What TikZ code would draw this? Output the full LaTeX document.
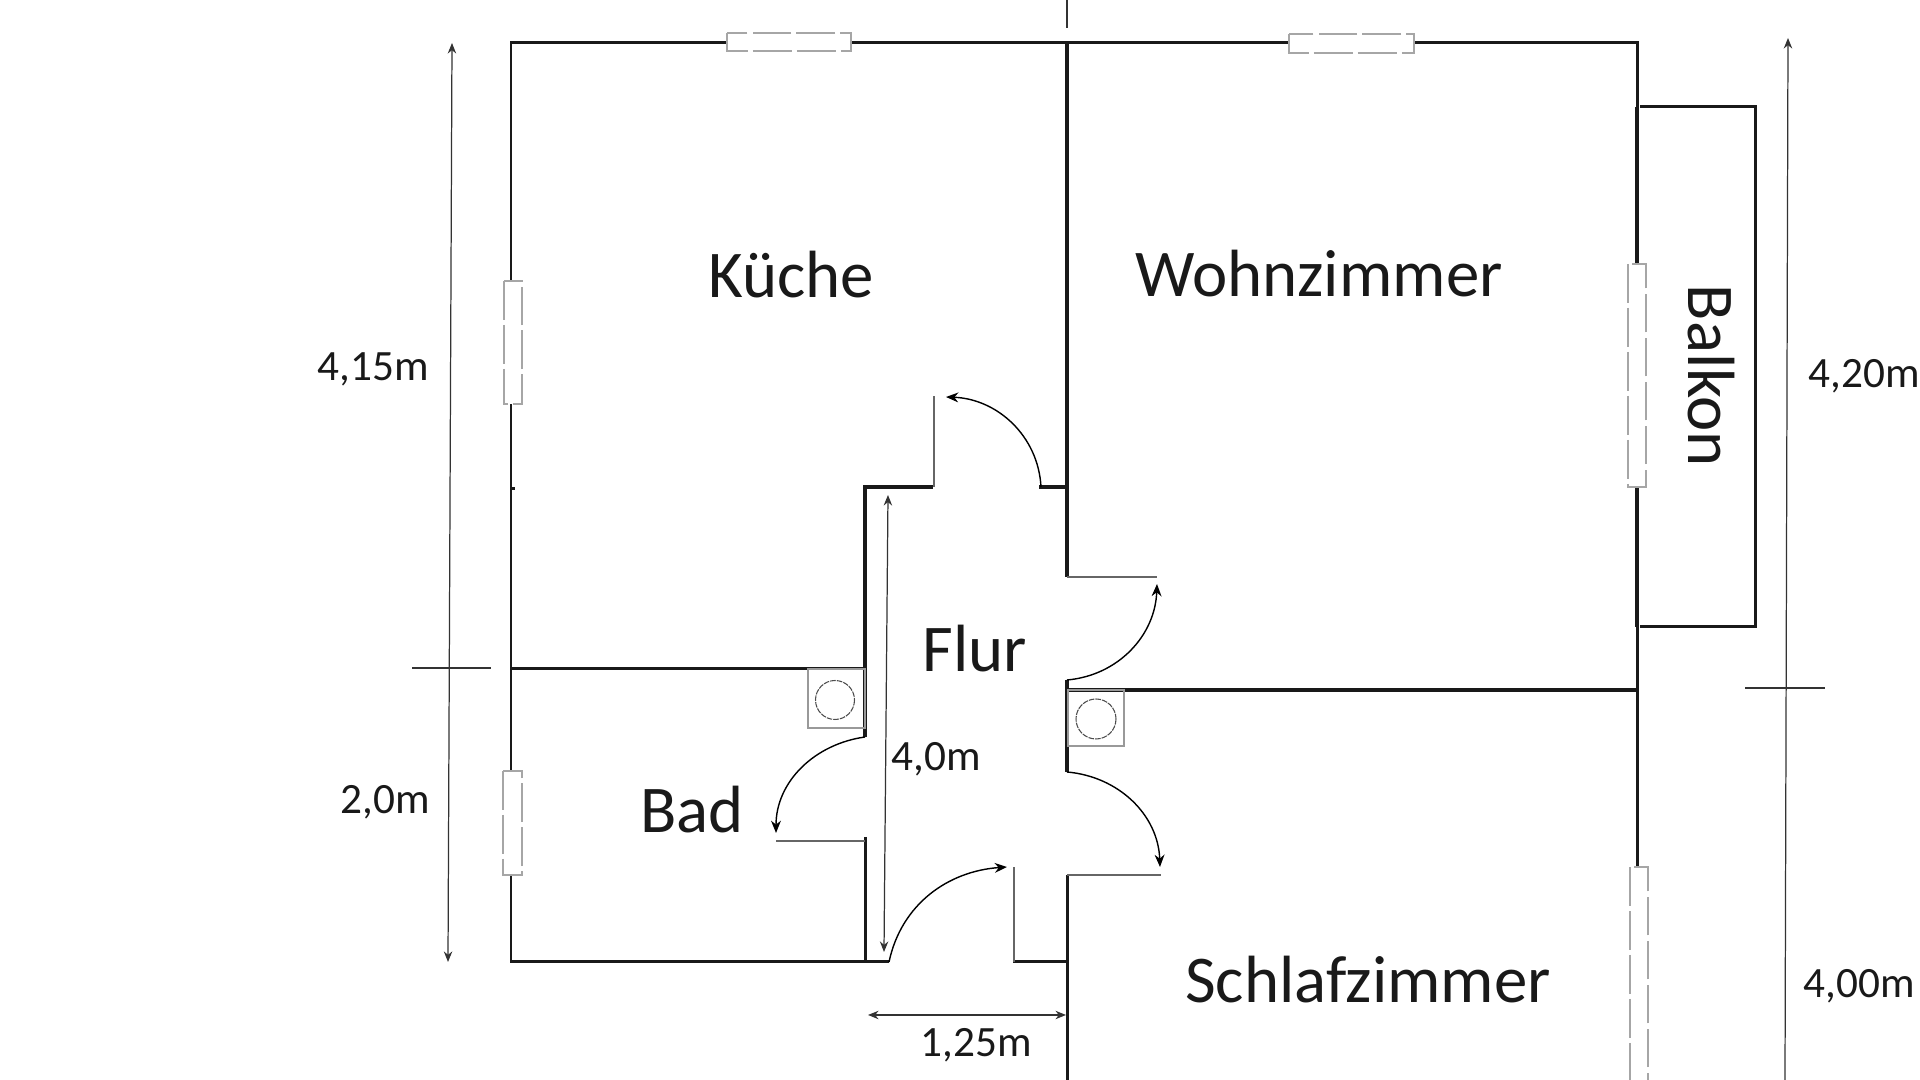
\documentclass[tikz,border=0pt]{standalone}
\usepackage{fontspec}
\setmainfont{Carlito}
\usetikzlibrary{arrows.meta}
\tikzset{
    wall/.style={draw=black!90, line width=1.05pt},
    sidewall/.style={draw=black!90, line width=0.85pt},
    leaf/.style={draw=black!60, line width=0.35pt},
    swing/.style={draw=black, line width=0.4pt, -{Stealth[length=3.5pt,width=2.8pt]}},
    dimline/.style={draw=black!80, line width=0.35pt},
    dimtip/.style={{Stealth[length=3pt,width=2.4pt]}-{Stealth[length=3pt,width=2.4pt]}},
    toptip/.style={{Stealth[length=3pt,width=2.4pt]}-},
    windowbox/.style={draw=black!35, fill=white, line width=0.35pt, dash pattern=on 11pt off 1.5pt},
    fixture/.style={draw=black!40, line width=0.35pt},
    basin/.style={draw=black!70, line width=0.3pt, dash pattern=on 1.6pt off 0.3pt},
    roomlabel/.style={font=\fontsize{19pt}{22pt}\selectfont, text=black!90, inner sep=0pt},
    sizelabel/.style={font=\fontsize{12.3pt}{14pt}\selectfont, text=black!90, inner sep=0pt},
}
\begin{document}
\begin{tikzpicture}[x=0.01cm, y=-0.01cm]
    \useasboundingbox (0,0) rectangle (1920,1080);

    % outer walls
    \draw [sidewall] (1067,43) -- (511,43) -- (511,962) -- (889,962);
    \draw [wall] (1067,43) -- (1067,577);
    \draw [sidewall] (1067,43) -- (1637,43) -- (1637,107);
    \draw [wall] (1637,107) -- (1637,627);
    \draw [sidewall] (1637,627) -- (1637,867);
    \draw [sidewall] (1640,107) -- (1755,107) -- (1755,627) -- (1640,627);
    \draw [sidewall] (1067,875) -- (1067,1080);

    % inner walls
    \draw [sidewall] (511,669) -- (865,669);
    \draw [wall] (865,737) -- (865,487) -- (933,487);
    \draw [wall] (1039,487) -- (1067,487);
    \draw [wall] (1067,690) -- (1637,690);
    \draw [wall] (1067,680) -- (1067,772);
    \draw [sidewall] (865,837) -- (865,962);
    \draw [sidewall] (1013,962) -- (1067,962);
    \draw [sidewall] (511,489) -- (515,489);

    % door leaves
    \draw [leaf] (934,487) -- (934,396);
    \draw [leaf] (1067,577) -- (1157,577);
    \draw [leaf] (1067,875) -- (1161,875);
    \draw [leaf] (865,841) -- (776,841);
    \draw [leaf] (1014,962) -- (1014,867);

    % door swings
    \draw [swing] (1041,487) to[out=93, in=-2] (946,397);
    \draw [swing] (1067,680) to[out=5, in=-92] (1157,584);
    \draw [swing] (1067,772) to[out=-5, in=92] (1160,867);
    \draw [swing] (865,737) to[out=188, in=90] (776,833);
    \draw [swing] (889,962) to[out=78, in=-176] (1007,867);

    % windows
    \draw [windowbox] (727,33) rectangle (851,51);
    \draw [windowbox] (1289,34) rectangle (1414,53);
    \draw [windowbox] (504,281) rectangle (522,404);
    \draw [windowbox] (503,771) rectangle (522,875);
    \draw [windowbox] (1628,264) rectangle (1646,487);
    \draw [windowbox] (1630,867) rectangle (1648,1090);

    % fixtures
    \draw [fixture] (808,669) rectangle (865,728);
    \draw [basin] (835,700) circle (19.5);
    \draw [fixture] (1068,690) rectangle (1124,746);
    \draw [basin] (1096,719) circle (20);

    % dimensions
    \draw [dimline] (1067,0) -- (1067,28);
    \draw [dimline, dimtip] (452,43) -- (448,962);
    \draw [dimline] (412,668) -- (491,668);
    \draw [dimline, toptip] (1788,38) -- (1785,1080);
    \draw [dimline] (1745,688) -- (1825,688);
    \draw [dimline, dimtip] (888,495) -- (884,952);
    \draw [dimline, dimtip] (868,1015) -- (1066,1015);

    % rooms
    \node (kueche) [roomlabel] at (791,275) {Küche};
    \node (wohnzimmer) [roomlabel] at (1319,274) {Wohnzimmer};
    \node (flur) [roomlabel] at (975,649) {Flur};
    \node (bad) [roomlabel] at (692,810) {Bad};
    \node (schlafzimmer) [roomlabel] at (1368,980) {Schlafzimmer};
    \node (balkon) [roomlabel, rotate=-90] at (1711,376) {Balkon};

    % sizes
    \node (kuechesize) [sizelabel] at (373,369) {4,15m};
    \node (badsize) [sizelabel] at (385,802) {2,0m};
    \node (wohnsize) [sizelabel] at (1864,376) {4,20m};
    \node (schlafsize) [sizelabel] at (1859,986) {4,00m};
    \node (flursize) [sizelabel] at (936,759) {4,0m};
    \node (flurwidth) [sizelabel] at (976,1045) {1,25m};
\end{tikzpicture}
\end{document}
